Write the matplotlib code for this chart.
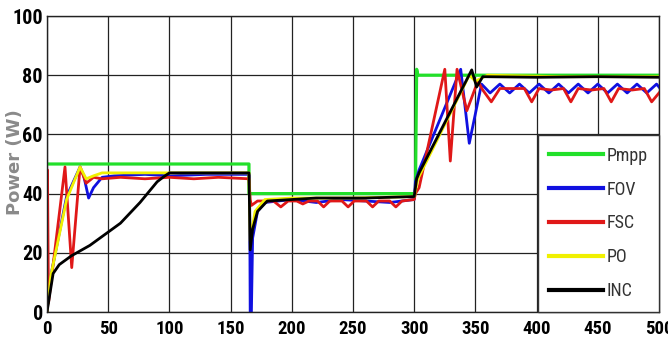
import matplotlib
matplotlib.use("Agg")
import matplotlib.pyplot as plt

# time axis ticks and power ticks
x_ticks = [0, 50, 100, 150, 200, 250, 300, 350, 400, 450, 500]
y_ticks = [0, 20, 40, 60, 80, 100]

# Pmpp (reference maximum power)
pmpp_t = [0, 165, 165, 301, 301, 302, 303, 500]
pmpp_p = [50, 50, 40, 40, 40, 82, 80, 80]

# FOV
fov_t = [0, 3, 16, 27, 30, 34, 38, 45, 55, 80, 100, 130, 165, 165.5, 166, 167, 168, 172, 178,
         200, 220, 240, 260, 280, 300, 301, 304, 338, 345, 355,
         362, 370, 378, 386, 394, 402, 410, 418, 426, 434, 442, 450, 458, 466, 474, 482, 490, 498, 500]
fov_p = [0, 12, 39, 49, 46, 38.5, 42, 45.5, 46, 46.5, 46, 46.5, 46.5, 46, 0, 0, 25, 34, 37,
         38, 37, 38, 37.5, 37, 38, 44, 48, 82, 57, 77,
         74, 77, 74, 77, 74, 77, 74, 77, 74, 77, 74, 77, 74, 77, 74, 77, 74, 77, 76]

# FSC
fsc_t = [0, 0.4, 1.2, 14.7, 20.2, 27, 32, 38, 45, 60, 80, 100, 120, 140, 165, 166, 167, 172,
         185, 191, 197, 204, 209, 214, 221, 226, 231, 241, 246, 251, 261, 266, 271, 280, 285, 290,
         300, 301, 304, 325, 329.5, 335, 343, 352, 356, 363, 370, 380,
         390, 396, 402, 412, 422, 428, 434, 445, 455, 461, 467, 478, 488, 494, 500]
fsc_p = [0, 48, 3, 49, 15, 49, 43.5, 45.5, 45, 45.5, 45, 45.5, 45, 45.5, 45, 38, 36, 37.5,
         37.5, 35.5, 37.5, 37.5, 36.5, 37.5, 37.5, 35.5, 37.5, 37.5, 35.5, 37.5, 37.5, 35.5, 37.5, 37.5, 35.5, 37.5,
         38, 40, 42, 82, 51, 82, 68, 78, 75, 71, 75.5, 75.5,
         75.5, 71, 75.5, 75, 75.5, 71, 75.5, 75, 75.5, 71, 75.5, 75, 75.5, 71, 74]

# PO
po_t = [0, 3, 16, 27, 32, 38, 45, 60, 100, 165, 166, 170, 178, 200, 250, 300, 303,
        345, 350, 360, 420, 500]
po_p = [0, 12, 38, 49, 45, 46, 47, 47, 47, 47, 24, 34, 38, 38.5, 38.5, 39, 45,
        80, 78, 80, 79.5, 79.5]

# INC
inc_t = [0, 5, 10, 20, 35, 49, 60, 76, 90, 95, 100, 130, 165, 166, 168, 172, 180, 220, 260,
         300, 302, 304, 347, 351, 356, 400, 450, 500]
inc_p = [0, 13, 16, 19, 22.5, 26.7, 30, 37, 44, 45.6, 47, 47, 47, 21, 28, 34, 37.5, 38.5, 38.5,
         39, 45, 47, 81.8, 76, 79.5, 79.3, 79.5, 79.3]

series = [
    ("Pmpp", pmpp_t, pmpp_p, "#22e02a", 2.3),
    ("FOV", fov_t, fov_p, "#1010e0", 2.0),
    ("FSC", fsc_t, fsc_p, "#e01818", 2.0),
    ("PO", po_t, po_p, "#f0f000", 2.0),
    ("INC", inc_t, inc_p, "#000000", 2.0),
]

fig = plt.figure(figsize=(6.68, 3.49), dpi=100)
ax = fig.add_axes([47 / 668, 37 / 349, 612 / 668, 296 / 349])

for name, t, p, color, lw in series:
    ax.plot(t, p, color=color, lw=lw, label=name, solid_joinstyle="round")

ax.set_xlim(0, 500)
ax.set_ylim(0, 100)
ax.set_xticks(x_ticks)
ax.set_yticks(y_ticks)
ax.grid(True, color="#222222", lw=0.9)
ax.set_axisbelow(True)
for s in ax.spines.values():
    s.set_color("#222222")
    s.set_linewidth(1.0)

tick_font = ["DejaVu Sans Condensed", "Liberation Sans Narrow", "Roboto Condensed",
             "Open Sans Condensed", "Liberation Sans"]
ax.tick_params(length=0, pad=6)
ax.tick_params(axis="y", pad=3)
for lab in ax.get_xticklabels() + ax.get_yticklabels():
    lab.set_family(tick_font)
    lab.set_fontweight("bold")
    lab.set_fontstretch("condensed")
    lab.set_fontsize(14.5)
for lab in ax.get_xticklabels():
    lab.set_fontsize(13.5)

fig.text(15 / 668, 1 - 162 / 349, "Power (W)", rotation=90, ha="center", va="center",
         fontsize=13, fontweight="bold", color="#8a8a8a", family="DejaVu Sans")

leg = ax.legend(loc="lower right", bbox_to_anchor=(1.0, 0.0), borderaxespad=0,
                prop={"family": tick_font, "size": 13, "stretch": "condensed"},
                handlelength=3.0, handletextpad=0.15, labelspacing=0.88,
                borderpad=0.65, fancybox=False, framealpha=1)
leg.get_frame().set_edgecolor("#333333")
leg.get_frame().set_linewidth(1.0)
for txt in leg.get_texts():
    txt.set_color("#333333")
for h in leg.get_lines():
    h.set_linewidth(3)

fig.savefig("out.png", dpi=100)
